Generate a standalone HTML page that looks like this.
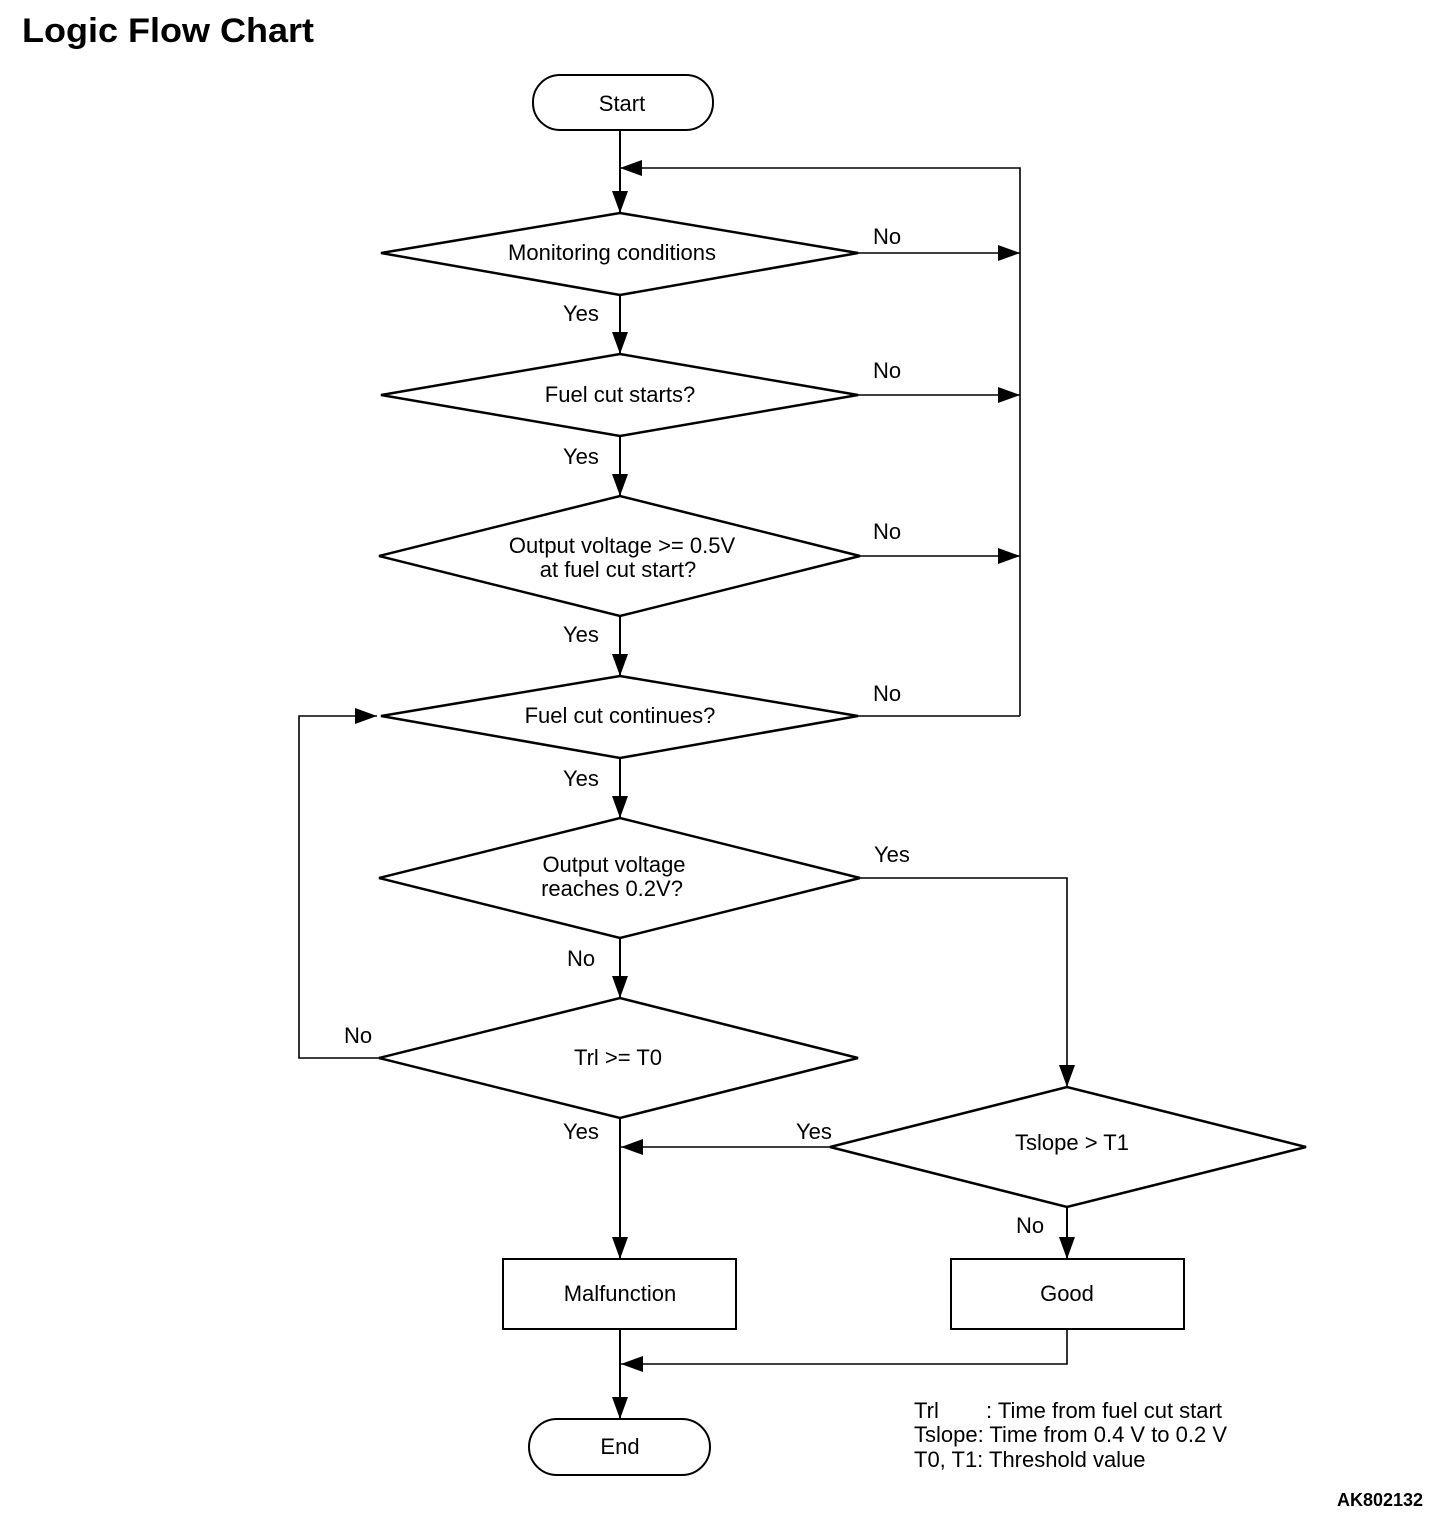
<!DOCTYPE html>
<html><head><meta charset="utf-8"><style>
html,body{margin:0;padding:0;background:#fff;}
svg{display:block;font-family:"Liberation Sans",Arial,sans-serif;}
text{font-size:22px;fill:#000;}
</style></head><body>
<svg width="1456" height="1520" viewBox="0 0 1456 1520" xmlns="http://www.w3.org/2000/svg">
<defs>
<marker id="a" viewBox="0 0 22 16" refX="22" refY="8" markerWidth="22" markerHeight="16" markerUnits="userSpaceOnUse" orient="auto">
<path d="M0,0 L22,8 L0,16 z" fill="#000"/></marker>
</defs>
<text x="22" y="42" style="font-size:34px;font-weight:bold" textLength="292" lengthAdjust="spacingAndGlyphs">Logic Flow Chart</text>
<g fill="none" stroke="#000" stroke-width="2">
<rect x="533" y="75" width="180" height="55" rx="27" ry="27"/>
<polygon points="381,253 620,213 858,253 620,295" stroke-width="2.5"/>
<polygon points="381,395 620,354 858,395 620,436" stroke-width="2.5"/>
<polygon points="379,556 620,496 860,556 620,616" stroke-width="2.5"/>
<polygon points="381,716 620,676 858,716 620,758" stroke-width="2.5"/>
<polygon points="379,878 620,818 860,878 620,938" stroke-width="2.5"/>
<polygon points="379,1058 620,998 858,1058 620,1118" stroke-width="2.5"/>
<polygon points="830,1147 1067,1087 1306,1147 1067,1207" stroke-width="2.5"/>
<rect x="503" y="1259" width="233" height="70"/>
<rect x="951" y="1259" width="233" height="70"/>
<rect x="529" y="1419" width="181" height="56" rx="28" ry="28"/>
<line x1="620" y1="130" x2="620" y2="213" marker-end="url(#a)"/>
<polyline points="1020,716 1020,168 620,168" marker-end="url(#a)" stroke-width="1.6"/>
<line x1="858" y1="716" x2="1020" y2="716" stroke-width="1.6"/>
<line x1="858" y1="253" x2="1020" y2="253" marker-end="url(#a)" stroke-width="1.6"/>
<line x1="858" y1="395" x2="1020" y2="395" marker-end="url(#a)" stroke-width="1.6"/>
<line x1="860" y1="556" x2="1020" y2="556" marker-end="url(#a)" stroke-width="1.6"/>
<line x1="620" y1="295" x2="620" y2="354" marker-end="url(#a)"/>
<line x1="620" y1="436" x2="620" y2="496" marker-end="url(#a)"/>
<line x1="620" y1="616" x2="620" y2="676" marker-end="url(#a)"/>
<line x1="620" y1="758" x2="620" y2="818" marker-end="url(#a)"/>
<line x1="620" y1="938" x2="620" y2="998" marker-end="url(#a)"/>
<line x1="620" y1="1118" x2="620" y2="1259" marker-end="url(#a)"/>
<polyline points="379,1058 299,1058 299,716 377,716" marker-end="url(#a)" stroke-width="1.6"/>
<polyline points="860,878 1067,878 1067,1087" marker-end="url(#a)" stroke-width="1.6"/>
<line x1="830" y1="1147" x2="621" y2="1147" marker-end="url(#a)" stroke-width="1.6"/>
<line x1="1067" y1="1207" x2="1067" y2="1259" marker-end="url(#a)"/>
<polyline points="1067,1329 1067,1364 621,1364" marker-end="url(#a)" stroke-width="1.6"/>
<line x1="620" y1="1329" x2="620" y2="1419" marker-end="url(#a)"/>
</g>
<g text-anchor="middle">
<text x="622" y="111">Start</text>
<text x="612" y="260">Monitoring conditions</text>
<text x="620" y="402">Fuel cut starts?</text>
<text x="622" y="553">Output voltage &gt;= 0.5V</text>
<text x="618" y="577">at fuel cut start?</text>
<text x="620" y="723">Fuel cut continues?</text>
<text x="614" y="872">Output voltage</text>
<text x="612" y="896">reaches 0.2V?</text>
<text x="618" y="1065">Trl &gt;= T0</text>
<text x="1072" y="1150">Tslope &gt; T1</text>
<text x="620" y="1301">Malfunction</text>
<text x="1067" y="1301">Good</text>
<text x="620" y="1454">End</text>
</g>
<g>
<text x="873" y="244">No</text>
<text x="873" y="378">No</text>
<text x="873" y="539">No</text>
<text x="873" y="701">No</text>
<text x="563" y="321">Yes</text>
<text x="563" y="464">Yes</text>
<text x="563" y="642">Yes</text>
<text x="563" y="786">Yes</text>
<text x="874" y="862">Yes</text>
<text x="567" y="966">No</text>
<text x="344" y="1043">No</text>
<text x="563" y="1139">Yes</text>
<text x="796" y="1139">Yes</text>
<text x="1016" y="1233">No</text>
<text x="914" y="1418">Trl</text>
<text x="986" y="1418">: Time from fuel cut start</text>
<text x="914" y="1442">Tslope: Time from 0.4 V to 0.2 V</text>
<text x="914" y="1467">T0, T1: Threshold value</text>
<text x="1337" y="1506" style="font-size:18px;font-weight:bold">AK802132</text>
</g>
</svg>
</body></html>
